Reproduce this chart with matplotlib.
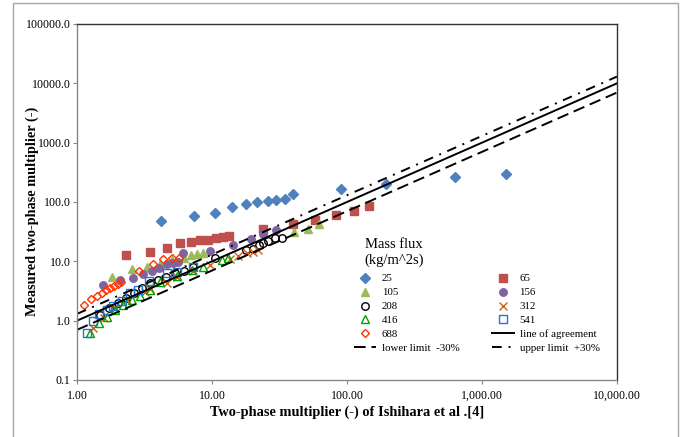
import matplotlib

matplotlib.use("Agg")
import matplotlib.pyplot as plt
import numpy as np
from matplotlib.patches import Rectangle

plt.rcParams["font.family"] = ["Liberation Serif", "DejaVu Serif"]

# measured vs. predicted two-phase multiplier, per mass flux (kg/m^2s)
g25_x = [4.17, 7.35, 10.5, 14.0, 17.8, 21.5, 25.9, 29.9, 34.7, 40.0, 89.8, 194.0, 631.0, 1500.0]
g25_y = [48.5, 58.3, 66.0, 81.7, 92.9, 99.3, 105.6, 108.5, 112.8, 138.6, 164.0, 202.0, 260.0, 300.0]

g65_x = [2.30, 3.47, 4.62, 5.84, 6.97, 8.15, 9.42, 10.7, 12.1, 13.4, 24.0, 39.8, 58.4, 82.9, 113.0, 146.0]
g65_y = [12.7, 14.4, 16.8, 20.3, 21.0, 22.7, 22.8, 24.8, 26.0, 26.6, 34.8, 43.3, 49.9, 59.4, 70.8, 86.0]

g105_x = [1.81, 2.57, 3.32, 4.12, 5.06, 6.23, 6.99, 7.70, 8.53, 40.5, 51.2, 62.2]
g105_y = [5.39, 7.45, 8.14, 9.04, 10.6, 11.3, 12.7, 13.3, 13.9, 31.7, 35.2, 43.2]

g156_x = [1.57, 2.08, 2.61, 3.10, 3.57, 4.05, 4.62, 5.17, 5.63, 6.07, 9.67, 14.2, 19.4, 24.0, 29.8]
g156_y = [4.00, 4.86, 5.31, 6.06, 6.81, 7.74, 8.93, 9.40, 9.66, 13.9, 15.0, 18.9, 23.9, 28.4, 33.9]

g208_x = [1.48, 1.73, 2.01, 2.31, 2.64, 3.01, 3.47, 4.00, 4.56, 5.32, 6.21, 7.28, 10.5,
          17.9, 20.2, 22.3, 24.0, 26.1, 29.3, 32.8]
g208_y = [1.25, 1.62, 1.99, 2.41, 2.93, 3.60, 4.27, 4.86, 5.39, 6.30, 6.97, 7.95, 11.3,
          15.6, 16.4, 18.5, 20.2, 22.1, 24.5, 25.1]

g312_x = [1.32, 1.58, 1.91, 2.33, 3.19, 3.47, 4.62, 5.48, 7.27, 9.67, 13.6, 15.7, 18.1, 20.2, 22.0]
g312_y = [0.74, 1.11, 1.64, 2.23, 3.08, 3.39, 4.27, 5.52, 6.89, 8.70, 11.0, 12.5, 14.0, 14.6, 15.6]

g416_x = [1.25, 1.46, 1.66, 1.91, 2.20, 2.54, 2.93, 3.47, 4.12, 5.48, 7.07, 8.62, 11.8, 13.2]
g416_y = [0.61, 0.90, 1.17, 1.51, 1.84, 2.23, 2.61, 3.29, 4.55, 5.67, 7.16, 8.14, 10.6, 11.3]

g541_x = [1.18, 1.32, 1.46, 1.66, 1.86, 2.14, 2.47, 2.83, 3.43, 4.62, 5.48, 7.27]
g541_y = [0.62, 1.00, 1.28, 1.51, 1.77, 2.15, 2.90, 3.29, 4.67, 6.45, 6.70, 8.14]

g688_x = [1.13, 1.28, 1.40, 1.52, 1.64, 1.75, 1.88, 2.00, 2.13, 2.88, 3.64, 4.36, 5.05, 5.72]
g688_y = [1.86, 2.30, 2.61, 2.97, 3.29, 3.60, 3.89, 4.16, 4.50, 6.81, 9.15, 10.8, 11.5, 11.5]

# agreement line and +/-30 % band
line_x = [1.0, 10000.0]
lower_factor = 0.7
upper_factor = 1.3

x_ticks = [1, 10, 100, 1000, 10000]
x_tick_labels = ["1.00", "10.00", "100.00", "1,000.00", "10,000.00"]
y_ticks = [0.1, 1, 10, 100, 1000, 10000, 100000]
y_tick_labels = ["0.1", "1.0", "10.0", "100.0", "1000.0", "10000.0", "100000.0"]

fig = plt.figure(figsize=(6.82, 4.37), dpi=100)
fig.patch.set_facecolor("white")
fig.patches.append(Rectangle((13 / 682, -0.01), 665 / 682, 1 - 3 / 437 + 0.01,
                             transform=fig.transFigure, fill=False,
                             edgecolor="#a6a6a6", linewidth=1.0))

ax = fig.add_axes([77 / 682, 57 / 437, 540 / 682, 356 / 437])
ax.set_xscale("log")
ax.set_yscale("log")

ms = 5.4
sty = dict(linestyle="none", markersize=ms)
h25, = ax.plot(g25_x, g25_y, marker="D", color="#4f81bd", markersize=5.0, linestyle="none", label="25")
h65, = ax.plot(g65_x, g65_y, marker="s", color="#c0504d", label="65", **sty)
h105, = ax.plot(g105_x, g105_y, marker="^", color="#9bbb59", label="105", **sty)
h156, = ax.plot(g156_x, g156_y, marker="o", color="#8064a2", label="156", **sty)
h208, = ax.plot(g208_x, g208_y, marker="o", mfc="none", mec="black", mew=1.0, label="208", **sty)
h312, = ax.plot(g312_x, g312_y, marker="x", color="#d2601a", mew=1.0, label="312", **sty)
h416, = ax.plot(g416_x, g416_y, marker="^", mfc="none", mec="#00a000", mew=1.0, label="416", **sty)
h541, = ax.plot(g541_x, g541_y, marker="s", mfc="none", mec="#1f77d4", mew=1.0, label="541", **sty)
h688, = ax.plot(g688_x, g688_y, marker="D", mfc="none", mec="#ff3300", mew=1.0,
                markersize=4.4, linestyle="none", label="688")

lx = np.array(line_x)
hagr, = ax.plot(lx, lx, color="black", lw=1.4, label="line of agreement")
hlow, = ax.plot(lx, lx * lower_factor, color="black", lw=1.4,
                linestyle=(0, (6, 3)), label="lower limit  -30%")
hup, = ax.plot(lx, lx * upper_factor, color="black", lw=1.4,
               linestyle=(0, (5, 3.5, 1, 3.5)), label="upper limit  +30%")

ax.set_xlim(1, 10000)
ax.set_ylim(0.1, 100000)
ax.xaxis.set_major_locator(matplotlib.ticker.FixedLocator(x_ticks))
ax.xaxis.set_minor_locator(matplotlib.ticker.NullLocator())
ax.yaxis.set_major_locator(matplotlib.ticker.FixedLocator(y_ticks))
ax.yaxis.set_minor_locator(matplotlib.ticker.NullLocator())
ax.set_xticklabels(x_tick_labels)
ax.set_yticklabels(y_tick_labels)
ax.tick_params(direction="out", length=3, width=0.8, color="#868686", labelsize=8.6)
ax.tick_params(axis="y", pad=1.5)
ax.tick_params(axis="x", pad=4)

for side in ("left", "bottom"):
    ax.spines[side].set_color("#868686")
for side in ("top", "right"):
    ax.spines[side].set_color("#333333")
for spine in ax.spines.values():
    spine.set_linewidth(1.0)

ax.set_xlabel("Two-phase multiplier (-) of Ishihara et al .[4]", fontsize=10.4,
              fontweight="bold", labelpad=3)
ax.set_ylabel("Measured two-phase multiplier (-)", fontsize=10.3, fontweight="bold")
ax.yaxis.set_label_coords(-0.070, 0.475)

# legend title drawn as plain text, the entries below it in two columns
ax.text(0.533, 0.382, "Mass flux", transform=ax.transAxes, fontsize=10.5,
        ha="left", va="center")
ax.text(0.533, 0.335, "(kg/m^2s)", transform=ax.transAxes, fontsize=10.5,
        ha="left", va="center")

handles = [h25, h105, h208, h416, h688, hlow, h65, h156, h312, h541, hagr, hup]
ax.legend(handles=handles, ncol=2, loc="upper left",
          bbox_to_anchor=(0.513, 0.298), frameon=False, fontsize=7.8,
          handlelength=2.0, handletextpad=0.55, columnspacing=3.0,
          labelspacing=0.4, borderpad=0, borderaxespad=0)

fig.savefig("out.png", dpi=100)
